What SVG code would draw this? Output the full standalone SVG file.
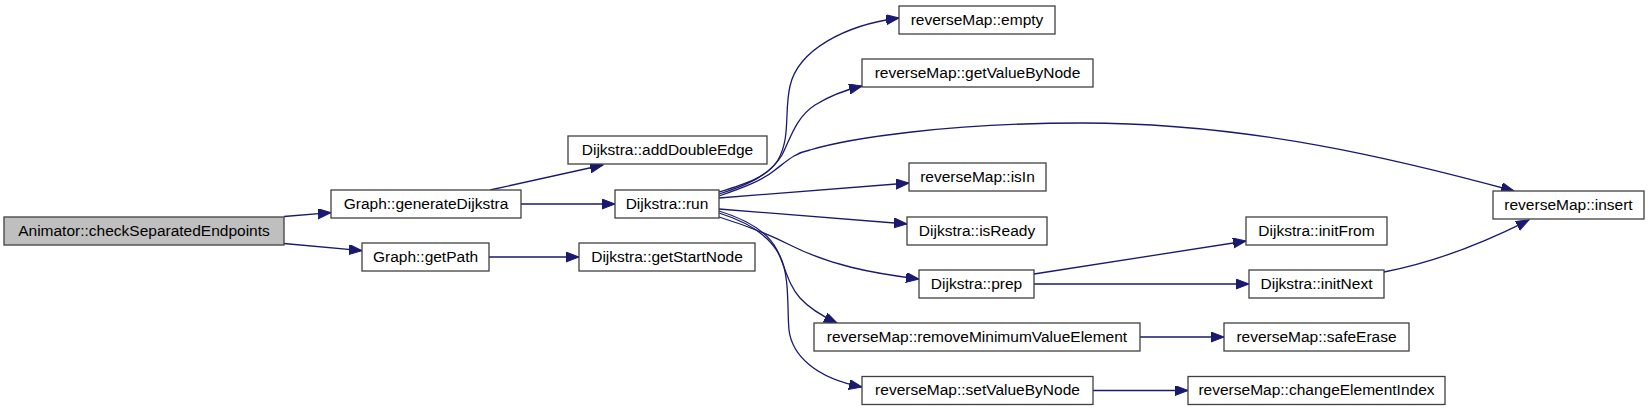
<svg xmlns="http://www.w3.org/2000/svg" width="1649" height="411" viewBox="0 0 1649 411">
<style>
.n rect{fill:#ffffff;stroke:#404040;stroke-width:1.3}
.n.sel rect{fill:#bfbfbf}
.n text{font-family:"Liberation Sans",Arial,sans-serif;font-size:15.5px;fill:#000;text-anchor:middle}
.e path{fill:none;stroke:#191970;stroke-width:1.3;marker-end:url(#arr)}
</style>
<defs>
<marker id="arr" markerUnits="userSpaceOnUse" markerWidth="15" markerHeight="12" refX="13" refY="5" orient="auto">
<path d="M0,0 L13,5 L0,10 z" fill="#191970" stroke="#191970" stroke-width="1"/>
</marker>
</defs>
<rect width="1649" height="411" fill="#ffffff"/>
<g id="edges" class="e">
<path d="M284,216.5 L331,212.7"/>
<path d="M284,243.5 L362,250.7"/>
<path d="M490,190 L603,165"/>
<path d="M521,204 L615,204"/>
<path d="M489,257 L579,257"/>
<path d="M719,192 C745,184 768,177 778,160 C791,137 784,112 790,86 C798,50 845,25 899,18"/>
<path d="M719,194 C748,185 770,175 782,155 C790,140 795,118 815,105 C828,97 845,90 862,86"/>
<path d="M719,196 C745,187 763,180 775,170 C788,160 795,153 810,150 C850,138 950,123 1083,123 C1250,123 1400,160 1514,191"/>
<path d="M719,198 L909,183"/>
<path d="M719,209 L907,224"/>
<path d="M719,217 C745,225 770,235 790,245 C830,265 870,273 919,279"/>
<path d="M719,211 C748,220 768,232 777,250 C785,266 788,285 800,298 C810,309 822,316 837,323"/>
<path d="M719,213 C748,222 770,236 780,256 C790,276 787,310 789,330 C792,355 815,378 862,387"/>
<path d="M1034,274 L1246,241"/>
<path d="M1034,284 L1249,284"/>
<path d="M1140,337 L1224,337"/>
<path d="M1093,390.5 L1188,390.5"/>
<path d="M1384,272 C1420,265 1470,250 1529,220"/>
</g>
<g id="animator_checkSeparatedEndpoints" class="n sel"><rect x="4" y="217" width="280" height="28"/><text x="144" y="235.5">Animator::checkSeparatedEndpoints</text></g>
<g id="graph_generateDijkstra" class="n"><rect x="331" y="190" width="190" height="28"/><text x="426" y="208.5">Graph::generateDijkstra</text></g>
<g id="graph_getPath" class="n"><rect x="362" y="243" width="127" height="28"/><text x="425.5" y="261.5">Graph::getPath</text></g>
<g id="dijkstra_addDoubleEdge" class="n"><rect x="568" y="136" width="199" height="28"/><text x="667.5" y="154.5">Dijkstra::addDoubleEdge</text></g>
<g id="dijkstra_run" class="n"><rect x="615" y="190" width="104" height="28"/><text x="667" y="208.5">Dijkstra::run</text></g>
<g id="dijkstra_getStartNode" class="n"><rect x="579" y="243" width="176" height="28"/><text x="667" y="261.5">Dijkstra::getStartNode</text></g>
<g id="reverseMap_empty" class="n"><rect x="899" y="6" width="156" height="28"/><text x="977" y="24.5">reverseMap::empty</text></g>
<g id="reverseMap_getValueByNode" class="n"><rect x="862" y="59" width="231" height="28"/><text x="977.5" y="77.5">reverseMap::getValueByNode</text></g>
<g id="reverseMap_isIn" class="n"><rect x="909" y="163" width="137" height="28"/><text x="977.5" y="181.5">reverseMap::isIn</text></g>
<g id="dijkstra_isReady" class="n"><rect x="907" y="217" width="140" height="28"/><text x="977" y="235.5">Dijkstra::isReady</text></g>
<g id="dijkstra_prep" class="n"><rect x="919" y="270" width="115" height="28"/><text x="976.5" y="288.5">Dijkstra::prep</text></g>
<g id="reverseMap_removeMinimumValueElement" class="n"><rect x="814" y="323" width="326" height="28"/><text x="977" y="341.5">reverseMap::removeMinimumValueElement</text></g>
<g id="reverseMap_setValueByNode" class="n"><rect x="862" y="376.5" width="231" height="28"/><text x="977.5" y="395">reverseMap::setValueByNode</text></g>
<g id="dijkstra_initFrom" class="n"><rect x="1246" y="217" width="141" height="28"/><text x="1316.5" y="235.5">Dijkstra::initFrom</text></g>
<g id="dijkstra_initNext" class="n"><rect x="1249" y="270" width="135" height="28"/><text x="1316.5" y="288.5">Dijkstra::initNext</text></g>
<g id="reverseMap_safeErase" class="n"><rect x="1224" y="323" width="185" height="28"/><text x="1316.5" y="341.5">reverseMap::safeErase</text></g>
<g id="reverseMap_changeElementIndex" class="n"><rect x="1188" y="376.5" width="257" height="28"/><text x="1316.5" y="395">reverseMap::changeElementIndex</text></g>
<g id="reverseMap_insert" class="n"><rect x="1493" y="191" width="151" height="28"/><text x="1568.5" y="209.5">reverseMap::insert</text></g>
</svg>
